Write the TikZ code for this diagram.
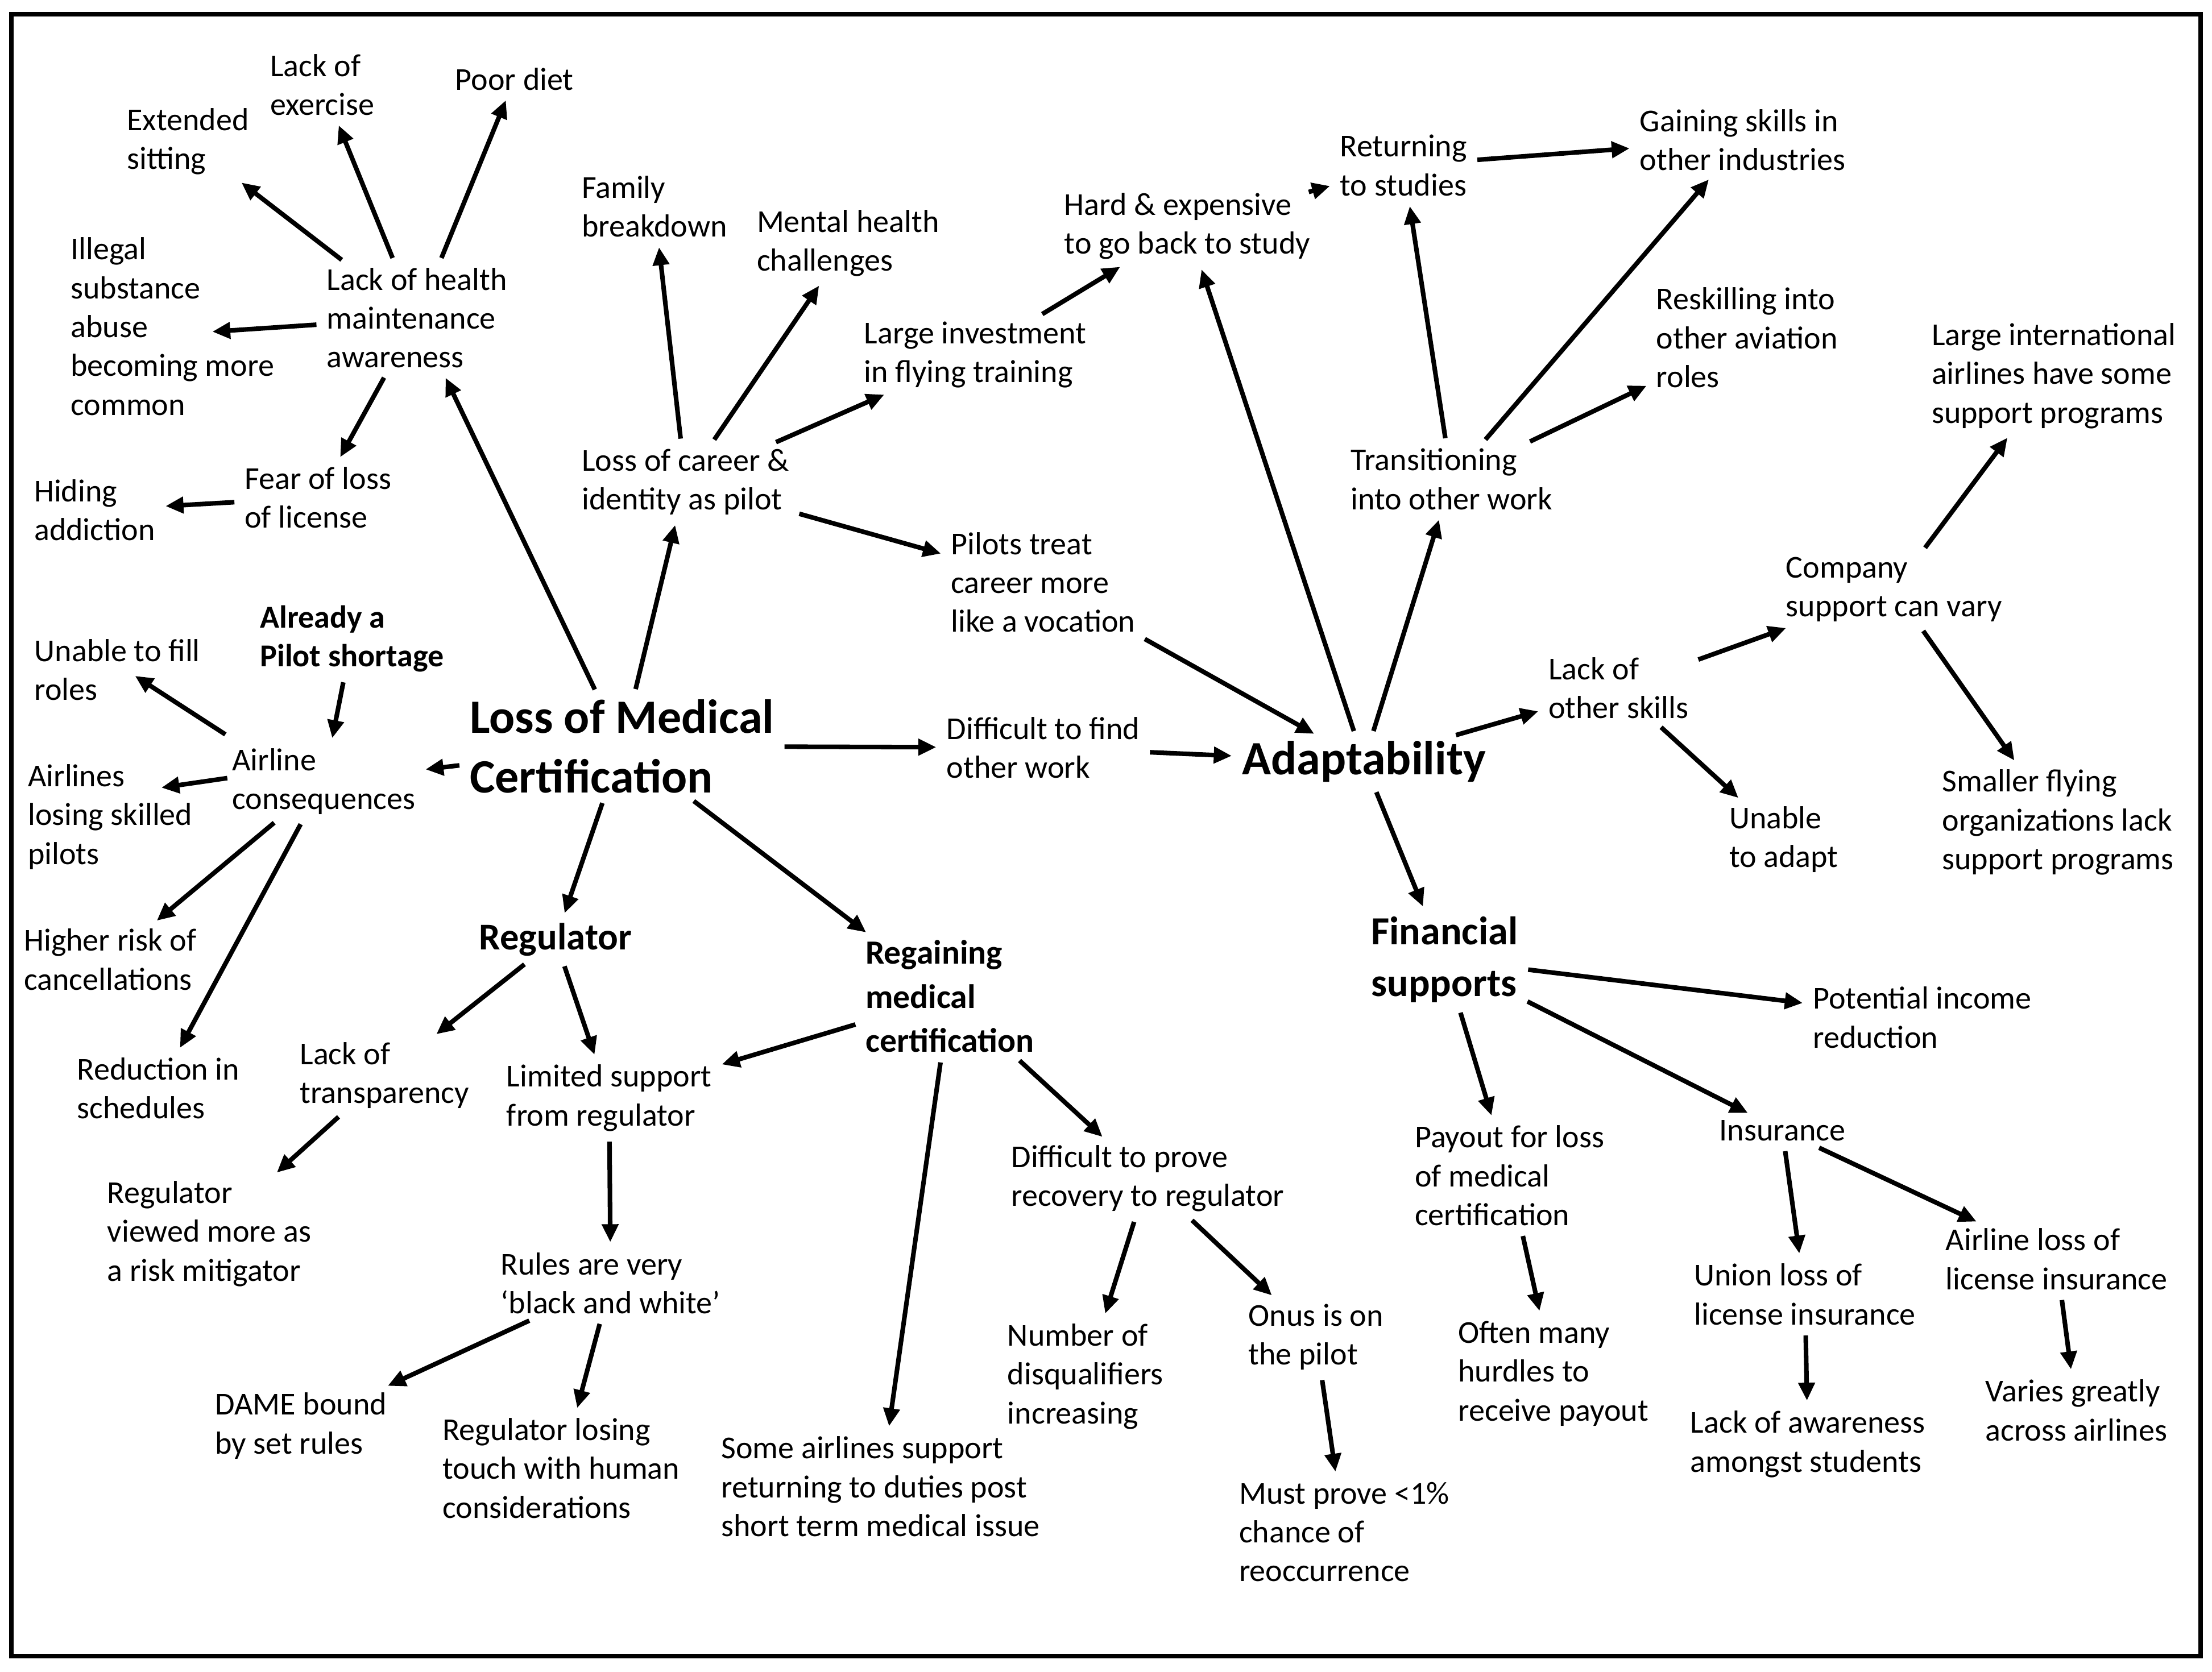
\documentclass[tikz,border=0pt]{standalone}
\usepackage{fontspec}
\setmainfont{Carlito}
\usetikzlibrary{arrows.meta}
\begin{document}
\begin{tikzpicture}[x=0.02492cm,y=-0.02492cm,
  t/.style={align=left,inner sep=2pt,font=\fontsize{16}{19.5}\selectfont},
  b/.style={t,font=\fontsize{19}{23}\selectfont\bfseries},
  bb/.style={t,font=\fontsize{24}{30}\selectfont\bfseries},
  bs/.style={t,font=\fontsize{16}{19.5}\selectfont\bfseries},
  a/.style={-{Triangle[length=9pt,width=8pt]},line width=2.3pt,shorten >=3pt,shorten <=3pt}]
\useasboundingbox (0,0) rectangle (1565,1183);
\draw[line width=2.3pt] (8,10) rectangle (1557,1172);
\node[t] (ext) at (133,100) {Extended\\sitting};
\node[t] (lackex) at (228,60) {Lack of\\exercise};
\node[t] (poor) at (364,56) {Poor diet};
\node[t] (illegal) at (122,231) {Illegal\\substance\\abuse\\becoming more\\common};
\node[t] (lhm) at (295,225) {Lack of health\\maintenance\\awareness};
\node[t] (fear) at (225,352) {Fear of loss\\of license};
\node[t] (hiding) at (67,361) {Hiding\\addiction};
\node[t] (family) at (463,146) {Family\\breakdown};
\node[t] (mental) at (600,172) {Mental health\\challenges};
\node[t] (large) at (690,251) {Large investment\\in flying training};
\node[t] (hard) at (840,160) {Hard \& expensive\\to go back to study};
\node[t] (returning) at (993,117) {Returning\\to studies};
\node[t] (gaining) at (1233,99) {Gaining skills in\\other industries};
\node[t] (reskill) at (1236,239) {Reskilling into\\other aviation\\roles};
\node[t] (largeint) at (1453,266) {Large international\\airlines have some\\support programs};
\node[t] (loc) at (485,341) {Loss of career \&\\identity as pilot};
\node[t] (pilots) at (738,412) {Pilots treat\\career more\\like a vocation};
\node[t] (trans) at (1027,339) {Transitioning\\into other work};
\node[t] (company) at (1340,417) {Company\\support can vary};
\node[bs] (already) at (249,452) {Already a\\Pilot shortage};
\node[t] (unable) at (83,474) {Unable to fill\\roles};
\node[t] (lackother) at (1145,487) {Lack of\\other skills};
\node[bb] (LMC) at (440,528) {Loss of Medical\\Certification};
\node[t] (diff) at (738,529) {Difficult to find\\other work};
\node[bb] (adapt) at (965,539) {Adaptability};
\node[t] (airline) at (229,553) {Airline\\consequences};
\node[t] (airlines) at (78,578) {Airlines\\losing skilled\\pilots};
\node[t] (unableadapt) at (1262,594) {Unable\\to adapt};
\node[t] (smaller) at (1456,582) {Smaller flying\\organizations lack\\support programs};
\node[b] (reg) at (393,665) {Regulator};
\node[t,font=\fontsize{17}{22}\selectfont\bfseries] (regain) at (672,705) {Regaining\\medical\\certification};
\node[t,font=\fontsize{20}{26}\selectfont\bfseries] (fin) at (1022,679) {Financial\\supports};
\node[t] (higher) at (78,679) {Higher risk of\\cancellations};
\node[t] (potential) at (1360,720) {Potential income\\reduction};
\node[t] (reduction) at (112,770) {Reduction in\\schedules};
\node[t] (lackt) at (272,761) {Lack of\\transparency};
\node[t] (limited) at (431,777) {Limited support\\from regulator};
\node[t] (dprove) at (812,834) {Difficult to prove\\recovery to regulator};
\node[t] (insurance) at (1261,800) {Insurance};
\node[t] (payout) at (1068,832) {Payout for loss\\of medical\\certification};
\node[t] (regviewed) at (148,873) {Regulator\\viewed more as\\a risk mitigator};
\node[t] (rules) at (432,908) {Rules are very\\`black and white'};
\node[t] (airlineloss) at (1455,891) {Airline loss of\\license insurance};
\node[t] (union) at (1277,916) {Union loss of\\license insurance};
\node[t] (number) at (768,974) {Number of\\disqualifiers\\increasing};
\node[t] (onus) at (931,946) {Onus is on\\the pilot};
\node[t] (often) at (1099,972) {Often many\\hurdles to\\receive payout};
\node[t] (varies) at (1469,998) {Varies greatly\\across airlines};
\node[t] (dame) at (213,1009) {DAME bound\\by set rules};
\node[t] (reglosing) at (397,1039) {Regulator losing\\touch with human\\considerations};
\node[t] (lackaw) at (1279,1022) {Lack of awareness\\amongst students};
\node[t] (some) at (623,1052) {Some airlines support\\returning to duties post\\short term medical issue};
\node[t] (must) at (951,1084) {Must prove <1\%\\chance of\\reoccurrence};
\coordinate (illE) at (146,235);
\coordinate (airlinesE) at (110,558);
\coordinate (unableE) at (92,476);
\coordinate (airlineN) at (163,522);
\coordinate (airlineW) at (165,550);
\foreach \s/\e in {lhm/ext,lhm/lackex,lhm/poor,lhm/illE,lhm/fear,fear/hiding,
 LMC/lhm,LMC/loc,loc/family,loc/mental,loc/large,large/hard,loc/pilots,pilots/adapt,
 LMC/diff,diff/adapt,adapt/hard,adapt/trans,trans/returning,returning/gaining,hard/returning,
 trans/gaining,trans/reskill,adapt/lackother,lackother/company,company/largeint,company/smaller,
 lackother/unableadapt,adapt/fin,fin/potential,fin/insurance,fin/payout,payout/often,
 insurance/union,union/lackaw,insurance/airlineloss,airlineloss/varies,
 LMC/airline,already/airline,airlineN/unableE,airlineW/airlinesE,airline/higher,airline/reduction,
 LMC/reg,LMC/regain,reg/lackt,lackt/regviewed,reg/limited,limited/rules,rules/dame,rules/reglosing,
 regain/limited,regain/some,regain/dprove,dprove/number,dprove/onus,onus/must}
 \draw[a] (\s) -- (\e);
\end{tikzpicture}
\end{document}
